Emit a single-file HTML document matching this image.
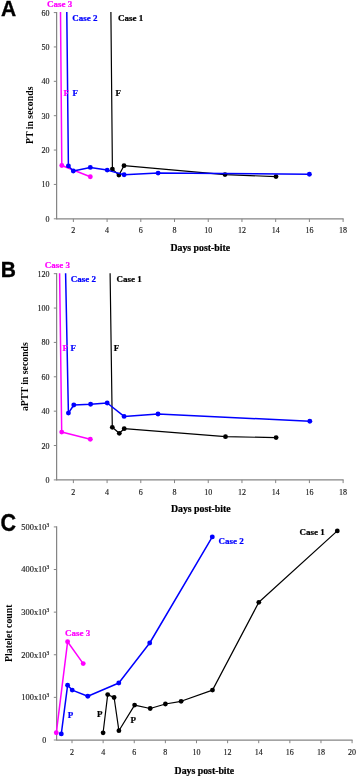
<!DOCTYPE html>
<html><head><meta charset="utf-8"><title>Figure</title>
<style>
html,body{margin:0;padding:0;background:#fff;}
body{width:358px;height:777px;overflow:hidden;font-family:"Liberation Serif", serif;}
svg{display:block;will-change:transform;}
</style></head>
<body>
<svg width="358" height="777" viewBox="0 0 358 777">
<rect x="0" y="0" width="358" height="777" fill="#ffffff"/>
<line x1="56.60" y1="11.98" x2="56.60" y2="219.40" stroke="#858585" stroke-width="1.25"/>
<line x1="53.80" y1="218.80" x2="56.60" y2="218.80" stroke="#858585" stroke-width="1"/>
<text x="49.6" y="221.80" font-size="8" fill="#1a1a1a" stroke="#1a1a1a" stroke-width="0.15" text-anchor="end" font-family='"Liberation Serif", serif'>0</text>
<line x1="53.80" y1="184.43" x2="56.60" y2="184.43" stroke="#858585" stroke-width="1"/>
<text x="49.6" y="187.43" font-size="8" fill="#1a1a1a" stroke="#1a1a1a" stroke-width="0.15" text-anchor="end" font-family='"Liberation Serif", serif'>10</text>
<line x1="53.80" y1="150.06" x2="56.60" y2="150.06" stroke="#858585" stroke-width="1"/>
<text x="49.6" y="153.06" font-size="8" fill="#1a1a1a" stroke="#1a1a1a" stroke-width="0.15" text-anchor="end" font-family='"Liberation Serif", serif'>20</text>
<line x1="53.80" y1="115.69" x2="56.60" y2="115.69" stroke="#858585" stroke-width="1"/>
<text x="49.6" y="118.69" font-size="8" fill="#1a1a1a" stroke="#1a1a1a" stroke-width="0.15" text-anchor="end" font-family='"Liberation Serif", serif'>30</text>
<line x1="53.80" y1="81.32" x2="56.60" y2="81.32" stroke="#858585" stroke-width="1"/>
<text x="49.6" y="84.32" font-size="8" fill="#1a1a1a" stroke="#1a1a1a" stroke-width="0.15" text-anchor="end" font-family='"Liberation Serif", serif'>40</text>
<line x1="53.80" y1="46.95" x2="56.60" y2="46.95" stroke="#858585" stroke-width="1"/>
<text x="49.6" y="49.95" font-size="8" fill="#1a1a1a" stroke="#1a1a1a" stroke-width="0.15" text-anchor="end" font-family='"Liberation Serif", serif'>50</text>
<line x1="53.80" y1="12.58" x2="56.60" y2="12.58" stroke="#858585" stroke-width="1"/>
<text x="49.6" y="15.58" font-size="8" fill="#1a1a1a" stroke="#1a1a1a" stroke-width="0.15" text-anchor="end" font-family='"Liberation Serif", serif'>60</text>
<line x1="56.60" y1="218.80" x2="343.62" y2="218.80" stroke="#858585" stroke-width="1.25"/>
<line x1="73.36" y1="218.80" x2="73.36" y2="222.00" stroke="#858585" stroke-width="1"/>
<text x="73.36" y="233.40" font-size="8" fill="#1a1a1a" text-anchor="middle" font-weight="normal" font-family='"Liberation Serif", serif' stroke="#1a1a1a" stroke-width="0.15">2</text>
<line x1="107.08" y1="218.80" x2="107.08" y2="222.00" stroke="#858585" stroke-width="1"/>
<text x="107.08" y="233.40" font-size="8" fill="#1a1a1a" text-anchor="middle" font-weight="normal" font-family='"Liberation Serif", serif' stroke="#1a1a1a" stroke-width="0.15">4</text>
<line x1="140.80" y1="218.80" x2="140.80" y2="222.00" stroke="#858585" stroke-width="1"/>
<text x="140.80" y="233.40" font-size="8" fill="#1a1a1a" text-anchor="middle" font-weight="normal" font-family='"Liberation Serif", serif' stroke="#1a1a1a" stroke-width="0.15">6</text>
<line x1="174.52" y1="218.80" x2="174.52" y2="222.00" stroke="#858585" stroke-width="1"/>
<text x="174.52" y="233.40" font-size="8" fill="#1a1a1a" text-anchor="middle" font-weight="normal" font-family='"Liberation Serif", serif' stroke="#1a1a1a" stroke-width="0.15">8</text>
<line x1="208.24" y1="218.80" x2="208.24" y2="222.00" stroke="#858585" stroke-width="1"/>
<text x="208.24" y="233.40" font-size="8" fill="#1a1a1a" text-anchor="middle" font-weight="normal" font-family='"Liberation Serif", serif' stroke="#1a1a1a" stroke-width="0.15">10</text>
<line x1="241.96" y1="218.80" x2="241.96" y2="222.00" stroke="#858585" stroke-width="1"/>
<text x="241.96" y="233.40" font-size="8" fill="#1a1a1a" text-anchor="middle" font-weight="normal" font-family='"Liberation Serif", serif' stroke="#1a1a1a" stroke-width="0.15">12</text>
<line x1="275.68" y1="218.80" x2="275.68" y2="222.00" stroke="#858585" stroke-width="1"/>
<text x="275.68" y="233.40" font-size="8" fill="#1a1a1a" text-anchor="middle" font-weight="normal" font-family='"Liberation Serif", serif' stroke="#1a1a1a" stroke-width="0.15">14</text>
<line x1="309.40" y1="218.80" x2="309.40" y2="222.00" stroke="#858585" stroke-width="1"/>
<text x="309.40" y="233.40" font-size="8" fill="#1a1a1a" text-anchor="middle" font-weight="normal" font-family='"Liberation Serif", serif' stroke="#1a1a1a" stroke-width="0.15">16</text>
<line x1="343.12" y1="218.80" x2="343.12" y2="222.00" stroke="#858585" stroke-width="1"/>
<text x="343.12" y="233.40" font-size="8" fill="#1a1a1a" text-anchor="middle" font-weight="normal" font-family='"Liberation Serif", serif' stroke="#1a1a1a" stroke-width="0.15">18</text>
<text x="200.30" y="250.50" font-size="9.8" fill="#000000" text-anchor="middle" font-weight="bold" font-family='"Liberation Serif", serif'  stroke="#000000" stroke-width="0.22">Days post-bite</text>
<text transform="translate(32.90,115.30) rotate(-90)" x="0" y="0" font-size="9.8" fill="#000000" text-anchor="middle" font-weight="bold" font-family='"Liberation Serif", serif'>PT in seconds</text>
<text transform="translate(1.0,16.4) scale(0.93,1)" x="0" y="0" font-size="22.6" fill="#000" stroke="#000" stroke-width="0.35" font-weight="bold" font-family='"Liberation Sans", sans-serif'>A</text>
<polyline points="110.90,12.00 112.40,169.10 118.90,175.10 124.00,165.70 225.00,174.60 276.00,176.60" fill="none" stroke="#000000" stroke-width="1.2" stroke-linejoin="round" stroke-linecap="butt"/>
<circle cx="112.40" cy="169.10" r="2.4" fill="#000000"/>
<circle cx="118.90" cy="175.10" r="2.4" fill="#000000"/>
<circle cx="124.00" cy="165.70" r="2.4" fill="#000000"/>
<circle cx="225.00" cy="174.60" r="2.4" fill="#000000"/>
<circle cx="276.00" cy="176.60" r="2.4" fill="#000000"/>
<polyline points="60.50,12.00 61.80,165.50 90.30,176.70" fill="none" stroke="#ff00ff" stroke-width="1.5" stroke-linejoin="round" stroke-linecap="butt"/>
<circle cx="61.80" cy="165.50" r="2.45" fill="#ff00ff"/>
<circle cx="90.30" cy="176.70" r="2.45" fill="#ff00ff"/>
<polyline points="66.80,12.00 68.40,165.90 73.30,171.00 90.30,167.40 107.20,170.10 124.10,174.70 158.10,173.10 309.40,174.20" fill="none" stroke="#0000ff" stroke-width="1.5" stroke-linejoin="round" stroke-linecap="butt"/>
<circle cx="68.40" cy="165.90" r="2.45" fill="#0000ff"/>
<circle cx="73.30" cy="171.00" r="2.45" fill="#0000ff"/>
<circle cx="90.30" cy="167.40" r="2.45" fill="#0000ff"/>
<circle cx="107.20" cy="170.10" r="2.45" fill="#0000ff"/>
<circle cx="124.10" cy="174.70" r="2.45" fill="#0000ff"/>
<circle cx="158.10" cy="173.10" r="2.45" fill="#0000ff"/>
<circle cx="309.40" cy="174.20" r="2.45" fill="#0000ff"/>
<text x="47.00" y="7.00" font-size="9" fill="#ff00ff" text-anchor="start" font-weight="bold" font-family='"Liberation Serif", serif'  stroke="#ff00ff" stroke-width="0.22">Case 3</text>
<text x="72.30" y="21.30" font-size="9" fill="#0000ff" text-anchor="start" font-weight="bold" font-family='"Liberation Serif", serif'  stroke="#0000ff" stroke-width="0.22">Case 2</text>
<text x="118.00" y="21.30" font-size="9" fill="#000000" text-anchor="start" font-weight="bold" font-family='"Liberation Serif", serif'  stroke="#000000" stroke-width="0.22">Case 1</text>
<text x="63.60" y="96.00" font-size="9" fill="#ff00ff" text-anchor="start" font-weight="bold" font-family='"Liberation Serif", serif'  stroke="#ff00ff" stroke-width="0.22">F</text>
<text x="72.40" y="96.00" font-size="9" fill="#0000ff" text-anchor="start" font-weight="bold" font-family='"Liberation Serif", serif'  stroke="#0000ff" stroke-width="0.22">F</text>
<text x="115.40" y="96.00" font-size="9" fill="#000000" text-anchor="start" font-weight="bold" font-family='"Liberation Serif", serif'  stroke="#000000" stroke-width="0.22">F</text>
<line x1="56.60" y1="273.08" x2="56.60" y2="480.50" stroke="#858585" stroke-width="1.25"/>
<line x1="53.80" y1="479.90" x2="56.60" y2="479.90" stroke="#858585" stroke-width="1"/>
<text x="49.6" y="482.90" font-size="8" fill="#1a1a1a" stroke="#1a1a1a" stroke-width="0.15" text-anchor="end" font-family='"Liberation Serif", serif'>0</text>
<line x1="53.80" y1="445.53" x2="56.60" y2="445.53" stroke="#858585" stroke-width="1"/>
<text x="49.6" y="448.53" font-size="8" fill="#1a1a1a" stroke="#1a1a1a" stroke-width="0.15" text-anchor="end" font-family='"Liberation Serif", serif'>20</text>
<line x1="53.80" y1="411.16" x2="56.60" y2="411.16" stroke="#858585" stroke-width="1"/>
<text x="49.6" y="414.16" font-size="8" fill="#1a1a1a" stroke="#1a1a1a" stroke-width="0.15" text-anchor="end" font-family='"Liberation Serif", serif'>40</text>
<line x1="53.80" y1="376.79" x2="56.60" y2="376.79" stroke="#858585" stroke-width="1"/>
<text x="49.6" y="379.79" font-size="8" fill="#1a1a1a" stroke="#1a1a1a" stroke-width="0.15" text-anchor="end" font-family='"Liberation Serif", serif'>60</text>
<line x1="53.80" y1="342.42" x2="56.60" y2="342.42" stroke="#858585" stroke-width="1"/>
<text x="49.6" y="345.42" font-size="8" fill="#1a1a1a" stroke="#1a1a1a" stroke-width="0.15" text-anchor="end" font-family='"Liberation Serif", serif'>80</text>
<line x1="53.80" y1="308.05" x2="56.60" y2="308.05" stroke="#858585" stroke-width="1"/>
<text x="49.6" y="311.05" font-size="8" fill="#1a1a1a" stroke="#1a1a1a" stroke-width="0.15" text-anchor="end" font-family='"Liberation Serif", serif'>100</text>
<line x1="53.80" y1="273.68" x2="56.60" y2="273.68" stroke="#858585" stroke-width="1"/>
<text x="49.6" y="276.68" font-size="8" fill="#1a1a1a" stroke="#1a1a1a" stroke-width="0.15" text-anchor="end" font-family='"Liberation Serif", serif'>120</text>
<line x1="56.60" y1="479.90" x2="343.62" y2="479.90" stroke="#858585" stroke-width="1.25"/>
<line x1="73.36" y1="479.90" x2="73.36" y2="483.10" stroke="#858585" stroke-width="1"/>
<text x="73.36" y="494.50" font-size="8" fill="#1a1a1a" text-anchor="middle" font-weight="normal" font-family='"Liberation Serif", serif' stroke="#1a1a1a" stroke-width="0.15">2</text>
<line x1="107.08" y1="479.90" x2="107.08" y2="483.10" stroke="#858585" stroke-width="1"/>
<text x="107.08" y="494.50" font-size="8" fill="#1a1a1a" text-anchor="middle" font-weight="normal" font-family='"Liberation Serif", serif' stroke="#1a1a1a" stroke-width="0.15">4</text>
<line x1="140.80" y1="479.90" x2="140.80" y2="483.10" stroke="#858585" stroke-width="1"/>
<text x="140.80" y="494.50" font-size="8" fill="#1a1a1a" text-anchor="middle" font-weight="normal" font-family='"Liberation Serif", serif' stroke="#1a1a1a" stroke-width="0.15">6</text>
<line x1="174.52" y1="479.90" x2="174.52" y2="483.10" stroke="#858585" stroke-width="1"/>
<text x="174.52" y="494.50" font-size="8" fill="#1a1a1a" text-anchor="middle" font-weight="normal" font-family='"Liberation Serif", serif' stroke="#1a1a1a" stroke-width="0.15">8</text>
<line x1="208.24" y1="479.90" x2="208.24" y2="483.10" stroke="#858585" stroke-width="1"/>
<text x="208.24" y="494.50" font-size="8" fill="#1a1a1a" text-anchor="middle" font-weight="normal" font-family='"Liberation Serif", serif' stroke="#1a1a1a" stroke-width="0.15">10</text>
<line x1="241.96" y1="479.90" x2="241.96" y2="483.10" stroke="#858585" stroke-width="1"/>
<text x="241.96" y="494.50" font-size="8" fill="#1a1a1a" text-anchor="middle" font-weight="normal" font-family='"Liberation Serif", serif' stroke="#1a1a1a" stroke-width="0.15">12</text>
<line x1="275.68" y1="479.90" x2="275.68" y2="483.10" stroke="#858585" stroke-width="1"/>
<text x="275.68" y="494.50" font-size="8" fill="#1a1a1a" text-anchor="middle" font-weight="normal" font-family='"Liberation Serif", serif' stroke="#1a1a1a" stroke-width="0.15">14</text>
<line x1="309.40" y1="479.90" x2="309.40" y2="483.10" stroke="#858585" stroke-width="1"/>
<text x="309.40" y="494.50" font-size="8" fill="#1a1a1a" text-anchor="middle" font-weight="normal" font-family='"Liberation Serif", serif' stroke="#1a1a1a" stroke-width="0.15">16</text>
<line x1="343.12" y1="479.90" x2="343.12" y2="483.10" stroke="#858585" stroke-width="1"/>
<text x="343.12" y="494.50" font-size="8" fill="#1a1a1a" text-anchor="middle" font-weight="normal" font-family='"Liberation Serif", serif' stroke="#1a1a1a" stroke-width="0.15">18</text>
<text x="200.80" y="512.10" font-size="9.8" fill="#000000" text-anchor="middle" font-weight="bold" font-family='"Liberation Serif", serif'  stroke="#000000" stroke-width="0.22">Days post-bite</text>
<text transform="translate(28.30,376.60) rotate(-90)" x="0" y="0" font-size="9.8" fill="#000000" text-anchor="middle" font-weight="bold" font-family='"Liberation Serif", serif'>aPTT in seconds</text>
<text transform="translate(0.7,276.5) scale(0.93,1)" x="0" y="0" font-size="22.6" fill="#000" stroke="#000" stroke-width="0.35" font-weight="bold" font-family='"Liberation Sans", sans-serif'>B</text>
<polyline points="110.10,273.20 112.30,427.30 119.30,433.30 124.20,428.70 225.50,436.70 276.10,437.60" fill="none" stroke="#000000" stroke-width="1.2" stroke-linejoin="round" stroke-linecap="butt"/>
<circle cx="112.30" cy="427.30" r="2.4" fill="#000000"/>
<circle cx="119.30" cy="433.30" r="2.4" fill="#000000"/>
<circle cx="124.20" cy="428.70" r="2.4" fill="#000000"/>
<circle cx="225.50" cy="436.70" r="2.4" fill="#000000"/>
<circle cx="276.10" cy="437.60" r="2.4" fill="#000000"/>
<polyline points="59.60,273.20 61.70,432.10 90.30,439.20" fill="none" stroke="#ff00ff" stroke-width="1.5" stroke-linejoin="round" stroke-linecap="butt"/>
<circle cx="61.70" cy="432.10" r="2.45" fill="#ff00ff"/>
<circle cx="90.30" cy="439.20" r="2.45" fill="#ff00ff"/>
<polyline points="65.60,273.20 68.40,413.10 73.80,405.00 90.60,404.30 107.20,403.00 124.10,416.40 158.00,414.00 309.80,421.30" fill="none" stroke="#0000ff" stroke-width="1.5" stroke-linejoin="round" stroke-linecap="butt"/>
<circle cx="68.40" cy="413.10" r="2.45" fill="#0000ff"/>
<circle cx="73.80" cy="405.00" r="2.45" fill="#0000ff"/>
<circle cx="90.60" cy="404.30" r="2.45" fill="#0000ff"/>
<circle cx="107.20" cy="403.00" r="2.45" fill="#0000ff"/>
<circle cx="124.10" cy="416.40" r="2.45" fill="#0000ff"/>
<circle cx="158.00" cy="414.00" r="2.45" fill="#0000ff"/>
<circle cx="309.80" cy="421.30" r="2.45" fill="#0000ff"/>
<text x="44.80" y="267.70" font-size="9" fill="#ff00ff" text-anchor="start" font-weight="bold" font-family='"Liberation Serif", serif'  stroke="#ff00ff" stroke-width="0.22">Case 3</text>
<text x="70.70" y="282.30" font-size="9" fill="#0000ff" text-anchor="start" font-weight="bold" font-family='"Liberation Serif", serif'  stroke="#0000ff" stroke-width="0.22">Case 2</text>
<text x="116.50" y="282.30" font-size="9" fill="#000000" text-anchor="start" font-weight="bold" font-family='"Liberation Serif", serif'  stroke="#000000" stroke-width="0.22">Case 1</text>
<text x="62.60" y="351.00" font-size="9" fill="#ff00ff" text-anchor="start" font-weight="bold" font-family='"Liberation Serif", serif'  stroke="#ff00ff" stroke-width="0.22">F</text>
<text x="70.40" y="351.00" font-size="9" fill="#0000ff" text-anchor="start" font-weight="bold" font-family='"Liberation Serif", serif'  stroke="#0000ff" stroke-width="0.22">F</text>
<text x="113.80" y="351.00" font-size="9" fill="#000000" text-anchor="start" font-weight="bold" font-family='"Liberation Serif", serif'  stroke="#000000" stroke-width="0.22">F</text>
<line x1="56.60" y1="526.30" x2="56.60" y2="740.60" stroke="#858585" stroke-width="1.25"/>
<line x1="53.80" y1="740.00" x2="56.60" y2="740.00" stroke="#858585" stroke-width="1"/>
<text x="46.3" y="742.70" font-size="8" fill="#1a1a1a" stroke="#1a1a1a" stroke-width="0.15" text-anchor="end" font-family='"Liberation Serif", serif'>0</text>
<line x1="53.80" y1="697.38" x2="56.60" y2="697.38" stroke="#858585" stroke-width="1"/>
<text x="49.2" y="700.28" font-size="8.4" fill="#1a1a1a" stroke="#1a1a1a" stroke-width="0.15" text-anchor="end" font-family='"Liberation Serif", serif'>100x10<tspan font-size="5.4" dy="-3">3</tspan></text>
<line x1="53.80" y1="654.76" x2="56.60" y2="654.76" stroke="#858585" stroke-width="1"/>
<text x="49.2" y="657.66" font-size="8.4" fill="#1a1a1a" stroke="#1a1a1a" stroke-width="0.15" text-anchor="end" font-family='"Liberation Serif", serif'>200x10<tspan font-size="5.4" dy="-3">3</tspan></text>
<line x1="53.80" y1="612.14" x2="56.60" y2="612.14" stroke="#858585" stroke-width="1"/>
<text x="49.2" y="615.04" font-size="8.4" fill="#1a1a1a" stroke="#1a1a1a" stroke-width="0.15" text-anchor="end" font-family='"Liberation Serif", serif'>300x10<tspan font-size="5.4" dy="-3">3</tspan></text>
<line x1="53.80" y1="569.52" x2="56.60" y2="569.52" stroke="#858585" stroke-width="1"/>
<text x="49.2" y="572.42" font-size="8.4" fill="#1a1a1a" stroke="#1a1a1a" stroke-width="0.15" text-anchor="end" font-family='"Liberation Serif", serif'>400x10<tspan font-size="5.4" dy="-3">3</tspan></text>
<line x1="53.80" y1="526.90" x2="56.60" y2="526.90" stroke="#858585" stroke-width="1"/>
<text x="49.2" y="529.80" font-size="8.4" fill="#1a1a1a" stroke="#1a1a1a" stroke-width="0.15" text-anchor="end" font-family='"Liberation Serif", serif'>500x10<tspan font-size="5.4" dy="-3">3</tspan></text>
<line x1="56.60" y1="740.00" x2="352.59" y2="740.00" stroke="#858585" stroke-width="1.25"/>
<line x1="72.01" y1="740.00" x2="72.01" y2="743.20" stroke="#858585" stroke-width="1"/>
<text x="72.01" y="755.00" font-size="8" fill="#1a1a1a" text-anchor="middle" font-weight="normal" font-family='"Liberation Serif", serif' stroke="#1a1a1a" stroke-width="0.15">2</text>
<line x1="103.13" y1="740.00" x2="103.13" y2="743.20" stroke="#858585" stroke-width="1"/>
<text x="103.13" y="755.00" font-size="8" fill="#1a1a1a" text-anchor="middle" font-weight="normal" font-family='"Liberation Serif", serif' stroke="#1a1a1a" stroke-width="0.15">4</text>
<line x1="134.25" y1="740.00" x2="134.25" y2="743.20" stroke="#858585" stroke-width="1"/>
<text x="134.25" y="755.00" font-size="8" fill="#1a1a1a" text-anchor="middle" font-weight="normal" font-family='"Liberation Serif", serif' stroke="#1a1a1a" stroke-width="0.15">6</text>
<line x1="165.37" y1="740.00" x2="165.37" y2="743.20" stroke="#858585" stroke-width="1"/>
<text x="165.37" y="755.00" font-size="8" fill="#1a1a1a" text-anchor="middle" font-weight="normal" font-family='"Liberation Serif", serif' stroke="#1a1a1a" stroke-width="0.15">8</text>
<line x1="196.49" y1="740.00" x2="196.49" y2="743.20" stroke="#858585" stroke-width="1"/>
<text x="196.49" y="755.00" font-size="8" fill="#1a1a1a" text-anchor="middle" font-weight="normal" font-family='"Liberation Serif", serif' stroke="#1a1a1a" stroke-width="0.15">10</text>
<line x1="227.61" y1="740.00" x2="227.61" y2="743.20" stroke="#858585" stroke-width="1"/>
<text x="227.61" y="755.00" font-size="8" fill="#1a1a1a" text-anchor="middle" font-weight="normal" font-family='"Liberation Serif", serif' stroke="#1a1a1a" stroke-width="0.15">12</text>
<line x1="258.73" y1="740.00" x2="258.73" y2="743.20" stroke="#858585" stroke-width="1"/>
<text x="258.73" y="755.00" font-size="8" fill="#1a1a1a" text-anchor="middle" font-weight="normal" font-family='"Liberation Serif", serif' stroke="#1a1a1a" stroke-width="0.15">14</text>
<line x1="289.85" y1="740.00" x2="289.85" y2="743.20" stroke="#858585" stroke-width="1"/>
<text x="289.85" y="755.00" font-size="8" fill="#1a1a1a" text-anchor="middle" font-weight="normal" font-family='"Liberation Serif", serif' stroke="#1a1a1a" stroke-width="0.15">16</text>
<line x1="320.97" y1="740.00" x2="320.97" y2="743.20" stroke="#858585" stroke-width="1"/>
<text x="320.97" y="755.00" font-size="8" fill="#1a1a1a" text-anchor="middle" font-weight="normal" font-family='"Liberation Serif", serif' stroke="#1a1a1a" stroke-width="0.15">18</text>
<line x1="352.09" y1="740.00" x2="352.09" y2="743.20" stroke="#858585" stroke-width="1"/>
<text x="352.09" y="755.00" font-size="8" fill="#1a1a1a" text-anchor="middle" font-weight="normal" font-family='"Liberation Serif", serif' stroke="#1a1a1a" stroke-width="0.15">20</text>
<text x="204.40" y="773.60" font-size="9.8" fill="#000000" text-anchor="middle" font-weight="bold" font-family='"Liberation Serif", serif'  stroke="#000000" stroke-width="0.22">Days post-bite</text>
<text transform="translate(12.2,633.2) rotate(-90)" x="0" y="0" font-size="9.8" fill="#000000" text-anchor="middle" font-weight="bold" font-family='"Liberation Serif", serif'>Platelet count</text>
<text transform="translate(0.6,531.4) scale(0.93,1)" x="0" y="0" font-size="23.2" fill="#000" stroke="#000" stroke-width="0.35" font-weight="bold" font-family='"Liberation Sans", sans-serif'>C</text>
<polyline points="103.10,732.80 107.70,694.60 114.10,697.50 118.90,730.70 134.60,705.10 150.20,708.50 165.40,704.00 181.10,701.30 212.50,690.10 258.80,602.30 337.30,530.90" fill="none" stroke="#000000" stroke-width="1.2" stroke-linejoin="round" stroke-linecap="butt"/>
<circle cx="103.10" cy="732.80" r="2.4" fill="#000000"/>
<circle cx="107.70" cy="694.60" r="2.4" fill="#000000"/>
<circle cx="114.10" cy="697.50" r="2.4" fill="#000000"/>
<circle cx="118.90" cy="730.70" r="2.4" fill="#000000"/>
<circle cx="134.60" cy="705.10" r="2.4" fill="#000000"/>
<circle cx="150.20" cy="708.50" r="2.4" fill="#000000"/>
<circle cx="165.40" cy="704.00" r="2.4" fill="#000000"/>
<circle cx="181.10" cy="701.30" r="2.4" fill="#000000"/>
<circle cx="212.50" cy="690.10" r="2.4" fill="#000000"/>
<circle cx="258.80" cy="602.30" r="2.4" fill="#000000"/>
<circle cx="337.30" cy="530.90" r="2.4" fill="#000000"/>
<polyline points="56.30,732.80 67.60,641.80 83.20,663.60" fill="none" stroke="#ff00ff" stroke-width="1.5" stroke-linejoin="round" stroke-linecap="butt"/>
<circle cx="56.30" cy="732.80" r="2.45" fill="#ff00ff"/>
<circle cx="67.60" cy="641.80" r="2.45" fill="#ff00ff"/>
<circle cx="83.20" cy="663.60" r="2.45" fill="#ff00ff"/>
<polyline points="61.30,733.90 67.60,685.30 72.20,690.10 87.80,696.20 118.80,683.00 149.70,643.00 212.30,536.90" fill="none" stroke="#0000ff" stroke-width="1.5" stroke-linejoin="round" stroke-linecap="butt"/>
<circle cx="61.30" cy="733.90" r="2.45" fill="#0000ff"/>
<circle cx="67.60" cy="685.30" r="2.45" fill="#0000ff"/>
<circle cx="72.20" cy="690.10" r="2.45" fill="#0000ff"/>
<circle cx="87.80" cy="696.20" r="2.45" fill="#0000ff"/>
<circle cx="118.80" cy="683.00" r="2.45" fill="#0000ff"/>
<circle cx="149.70" cy="643.00" r="2.45" fill="#0000ff"/>
<circle cx="212.30" cy="536.90" r="2.45" fill="#0000ff"/>
<text x="64.90" y="636.30" font-size="9" fill="#ff00ff" text-anchor="start" font-weight="bold" font-family='"Liberation Serif", serif'  stroke="#ff00ff" stroke-width="0.22">Case 3</text>
<text x="218.40" y="543.60" font-size="9" fill="#0000ff" text-anchor="start" font-weight="bold" font-family='"Liberation Serif", serif'  stroke="#0000ff" stroke-width="0.22">Case 2</text>
<text x="299.40" y="534.70" font-size="9" fill="#000000" text-anchor="start" font-weight="bold" font-family='"Liberation Serif", serif'  stroke="#000000" stroke-width="0.22">Case 1</text>
<text x="67.80" y="717.60" font-size="9" fill="#0000ff" text-anchor="start" font-weight="bold" font-family='"Liberation Serif", serif'  stroke="#0000ff" stroke-width="0.22">P</text>
<text x="96.90" y="717.30" font-size="9" fill="#000000" text-anchor="start" font-weight="bold" font-family='"Liberation Serif", serif'  stroke="#000000" stroke-width="0.22">P</text>
<text x="130.40" y="723.00" font-size="9" fill="#000000" text-anchor="start" font-weight="bold" font-family='"Liberation Serif", serif'  stroke="#000000" stroke-width="0.22">P</text>
</svg>
</body></html>
